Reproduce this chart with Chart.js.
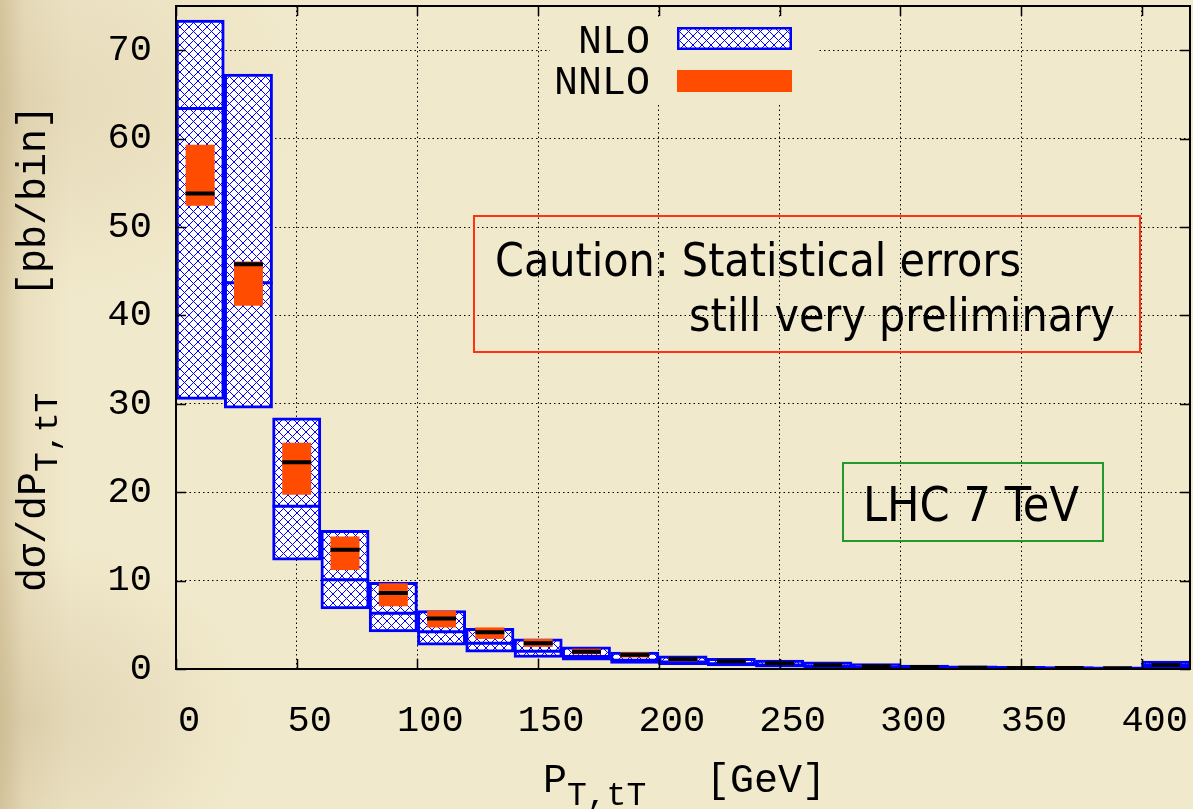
<!DOCTYPE html>
<html>
<head>
<meta charset="utf-8">
<script src="https://cdn.jsdelivr.net/npm/chart.js@4.4.1/dist/chart.umd.min.js"></script>
<style>
  html, body { margin: 0; padding: 0; }
  body { width: 1193px; height: 809px; overflow: hidden; background: #f1e9cb; }
  #paper {
    position: relative; width: 1193px; height: 809px;
    background:
      linear-gradient(to right, rgba(160,128,70,0.30) 0px, rgba(170,140,85,0.10) 25px, rgba(170,140,85,0) 70px),
      radial-gradient(ellipse 220px 180px at 30px 720px, rgba(150,120,70,0.18), rgba(150,120,70,0)),
      radial-gradient(ellipse 260px 200px at 40px 100px, rgba(160,130,80,0.15), rgba(160,130,80,0)),
      #f1e9cb;
  }
  canvas { display: block; }
</style>
</head>
<body>
<div id="paper"><canvas id="chart" width="1193" height="809"></canvas></div>
<script>
// Transverse momentum of the top-antitop pair, 20 GeV bins (last bin: overflow)
const binLow = [0, 20, 40, 60, 80, 100, 120, 140, 160, 180, 200, 220, 240, 260, 280, 300, 320, 340, 360, 380, 400];

// NLO scale-variation band and central value [pb/bin]
const nloUpper   = [73.4, 67.3, 28.4, 15.7, 9.8, 6.6, 4.6, 3.4, 2.5, 1.9, 1.5, 1.2, 1.0, 0.8, 0.6, 0.45, 0.35, 0.3, 0.25, 0.2, 0.9];
const nloCentral = [63.4, 43.7, 18.4, 10.1, 6.3, 4.2, 2.9, 2.0, 1.4, 1.0, 0.8, 0.6, 0.45, 0.35, 0.25, 0.2, 0.15, 0.12, 0.1, 0.08, 0.4];
const nloLower   = [30.5, 29.5, 12.3, 6.8, 4.2, 2.7, 1.9, 1.3, 1.0, 0.64, 0.5, 0.34, 0.2, 0.15, 0.1, 0.08, 0.05, 0.04, 0.03, 0.02, 0.1];

// NNLO band and central value [pb/bin]
const nnloUpper   = [59.3, 46.1, 25.6, 15.0, 9.7, 6.6, 4.7, 3.4, 2.3, 1.9, 1.36, 1.05, 0.8, 0.6, 0.45, 0.35, 0.28, 0.22, 0.18, 0.15, 0.55];
const nnloCentral = [53.8, 45.8, 23.4, 13.5, 8.6, 5.7, 4.15, 2.9, 1.96, 1.6, 1.13, 0.87, 0.64, 0.45, 0.3, 0.22, 0.15, 0.12, 0.1, 0.08, 0.45];
const nnloLower   = [52.4, 41.1, 19.7, 11.2, 7.1, 4.7, 3.4, 2.5, 1.66, 1.3, 0.87, 0.7, 0.5, 0.32, 0.2, 0.14, 0.1, 0.07, 0.05, 0.04, 0.35];

// Axis ticks
const xTicks = [0, 50, 100, 150, 200, 250, 300, 350, 400];
const yTicks = [0, 10, 20, 30, 40, 50, 60, 70];

const BIN = 20;
const X_MAX = 420, Y_MAX = 75;
const PAPER = '#f1e9cb';
const BLUE = '#0000ff';
const ORANGE = '#ff4c00';
const MONO = "'Liberation Mono', 'DejaVu Sans Mono', monospace";
const SANS = "'DejaVu Sans Condensed', 'DejaVu Sans', sans-serif";

// blue cross-hatch on white
function makeHatch() {
  const s = 9;
  const c = document.createElement('canvas');
  c.width = s; c.height = s;
  const g = c.getContext('2d');
  g.fillStyle = '#ffffff';
  g.fillRect(0, 0, s, s);
  g.strokeStyle = BLUE;
  g.lineWidth = 1.0;
  g.beginPath();
  for (let k = -1; k <= 1; k++) {
    g.moveTo(k * s, 0); g.lineTo(k * s + s, s);
    g.moveTo(k * s + s, 0); g.lineTo(k * s, s);
  }
  g.stroke();
  return g.createPattern(c, 'repeat');
}
const hatch = makeHatch();

const centers = binLow.map(lo => lo + BIN / 2);

function bandData(lower, upper) {
  return centers.map((c, i) => ({ x: c, y: [lower[i], upper[i]] }));
}
// horizontal segments, one per bin, separated by gaps
function segmentData(values, half) {
  const pts = [];
  centers.forEach((c, i) => {
    pts.push({ x: c - half, y: values[i] }, { x: c + half, y: values[i] }, { x: c + half, y: null });
  });
  return pts;
}

function fixedTicks(values) {
  return scale => { scale.ticks = values.map(v => ({ value: v })); };
}

// frame, inward tick marks, key, annotation boxes and axis titles
const decor = {
  id: 'decor',
  beforeDatasetsDraw(chart) {
    const ctx = chart.ctx;
    ctx.save();
    ctx.fillStyle = PAPER;
    ctx.fillRect(550, 17, 267, 85);
    ctx.restore();
  },
  afterDatasetsDraw(chart) {
    const { ctx, chartArea: a, scales: { x, y } } = chart;
    ctx.save();
    ctx.strokeStyle = '#000';
    ctx.lineWidth = 1.5;
    ctx.beginPath();
    xTicks.forEach(v => {
      const px = Math.round(x.getPixelForValue(v)) + 0.5;
      ctx.moveTo(px, a.bottom); ctx.lineTo(px, a.bottom - 10);
      ctx.moveTo(px, a.top); ctx.lineTo(px, a.top + 10);
    });
    yTicks.forEach(v => {
      const py = Math.round(y.getPixelForValue(v)) + 0.5;
      ctx.moveTo(a.left, py); ctx.lineTo(a.left + 10, py);
      ctx.moveTo(a.right, py); ctx.lineTo(a.right - 10, py);
    });
    ctx.stroke();
    ctx.lineWidth = 2;
    ctx.strokeRect(a.left, a.top, a.right - a.left, a.bottom - a.top);
    ctx.restore();
  },
  afterDraw(chart) {
    const ctx = chart.ctx;
    ctx.save();

    // key
    ctx.font = '40px ' + MONO;
    ctx.fillStyle = '#000';
    ctx.textAlign = 'right';
    ctx.textBaseline = 'alphabetic';
    ctx.fillText('NLO', 650, 53);
    ctx.fillText('NNLO', 650, 94);
    ctx.fillStyle = hatch;
    ctx.fillRect(677, 27, 115, 23);
    ctx.strokeStyle = BLUE;
    ctx.lineWidth = 2.5;
    ctx.strokeRect(678.25, 28.25, 112.5, 20.5);
    ctx.fillStyle = ORANGE;
    ctx.fillRect(677, 70, 115, 22);

    // caution note
    ctx.strokeStyle = '#ff3311';
    ctx.lineWidth = 2;
    ctx.strokeRect(474, 216, 666, 136);
    ctx.fillStyle = '#000';
    ctx.textAlign = 'left';
    ctx.font = '46px ' + SANS;
    ctx.fillText('Caution: Statistical errors', 495, 276);
    ctx.fillText('still very preliminary', 689, 331);

    // collider label
    ctx.strokeStyle = '#22992a';
    ctx.strokeRect(843, 463, 260, 78);
    ctx.font = '48px ' + SANS;
    ctx.textAlign = 'center';
    ctx.fillText('LHC 7 TeV', 971, 521);

    // x title with subscript
    ctx.textAlign = 'left';
    ctx.font = '40px ' + MONO;
    ctx.fillText('P', 543, 792);
    const pw = ctx.measureText('P').width;
    ctx.font = '33px ' + MONO;
    ctx.fillText('T,tT', 543 + pw, 805);
    ctx.font = '40px ' + MONO;
    ctx.fillText('[GeV]', 706, 792);

    // y title (rotated) with subscript
    ctx.translate(45, 592);
    ctx.rotate(-Math.PI / 2);
    ctx.font = '40px ' + MONO;
    ctx.textAlign = 'left';
    ctx.fillText('d\u03c3/dP', 0, 0);
    const dw = ctx.measureText('d\u03c3/dP').width;
    ctx.font = '33px ' + MONO;
    ctx.fillText('T,tT', dw, 12);
    ctx.font = '40px ' + MONO;
    ctx.textAlign = 'right';
    ctx.fillText('[pb/bin]', 592 - 105, 0);

    ctx.restore();
  }
};

new Chart(document.getElementById('chart'), {
  type: 'bar',
  data: {
    datasets: [
      {
        type: 'line', label: 'NNLO central', order: 0,
        data: segmentData(nnloCentral, BIN * 0.3),
        borderColor: '#000', borderWidth: 4, pointRadius: 0,
        spanGaps: false, fill: false, borderCapStyle: 'butt'
      },
      {
        label: 'NNLO', order: 1, grouped: false,
        data: bandData(nnloLower, nnloUpper),
        backgroundColor: ORANGE, borderWidth: 0,
        barPercentage: 0.6, categoryPercentage: 1.0
      },
      {
        type: 'line', label: 'NLO central', order: 2,
        data: segmentData(nloCentral, BIN / 2),
        borderColor: BLUE, borderWidth: 3, pointRadius: 0,
        spanGaps: false, fill: false, borderCapStyle: 'butt'
      },
      {
        label: 'NLO', order: 3, grouped: false,
        data: bandData(nloLower, nloUpper),
        backgroundColor: hatch, borderColor: BLUE, borderWidth: 3,
        borderSkipped: false, barPercentage: 1.0, categoryPercentage: 1.0
      }
    ]
  },
  options: {
    responsive: false,
    animation: false,
    events: [],
    devicePixelRatio: 1,
    layout: { padding: { top: 6, right: 3, left: 0, bottom: 0 } },
    plugins: { legend: { display: false }, tooltip: { enabled: false } },
    scales: {
      x: {
        type: 'linear', min: 0, max: X_MAX, offset: false,
        afterBuildTicks: fixedTicks(xTicks),
        afterFit: s => { s.height = 140; s.paddingLeft = 0; s.paddingRight = 0; },
        grid: { color: '#000', lineWidth: 1, drawTicks: false, offset: false },
        border: { display: false, dash: [1.5, 3] },
        ticks: { color: '#000', padding: 30, labelOffset: 13, maxRotation: 0, font: { family: MONO, size: 37 } }
      },
      y: {
        type: 'linear', min: 0, max: Y_MAX,
        afterBuildTicks: fixedTicks(yTicks),
        afterFit: s => { s.width = 176; s.paddingTop = 0; s.paddingBottom = 0; },
        grid: { color: '#000', lineWidth: 1, drawTicks: false },
        border: { display: false, dash: [1.5, 3] },
        ticks: { color: '#000', padding: 24, font: { family: MONO, size: 37 } }
      }
    }
  },
  plugins: [decor]
});
</script>
</body>
</html>
